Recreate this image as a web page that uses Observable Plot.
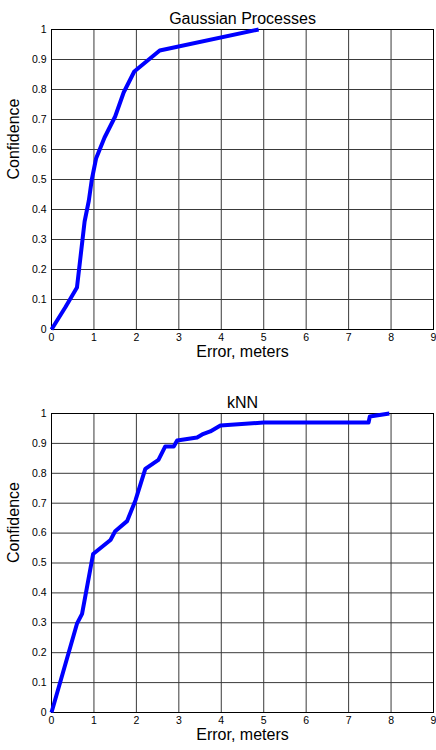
<!DOCTYPE html>
<html>
<head>
<meta charset="utf-8">
<script src="https://cdn.jsdelivr.net/npm/d3@7"></script>
<script src="https://cdn.jsdelivr.net/npm/@observablehq/plot@0.6"></script>
<style>
  body { margin: 0; background: white; }
  #chart { width: 436px; height: 750px; overflow: hidden; }
  #chart svg { display: block; }
</style>
</head>
<body>
<div id="chart"></div>
<script>
// Data
const xTicks = [0, 1, 2, 3, 4, 5, 6, 7, 8, 9];
const yTicks = [0, 0.1, 0.2, 0.3, 0.4, 0.5, 0.6, 0.7, 0.8, 0.9, 1];

const gpError = [0, 0.33, 0.6, 0.78, 0.88, 0.95, 1.05, 1.25, 1.5, 1.7, 1.95, 2.55, 4.88];
const gpConfidence = [0, 0.075, 0.14, 0.36, 0.43, 0.5, 0.57, 0.64, 0.71, 0.79, 0.86, 0.93, 1.0];

const knnError = [0, 0.6, 0.72, 0.98, 1.39, 1.5, 1.78, 1.98, 2.21, 2.52, 2.68, 2.88, 2.96, 3.43, 3.55, 3.74, 3.98, 5.0, 7.47, 7.5, 7.96];
const knnConfidence = [0, 0.297, 0.33, 0.53, 0.577, 0.606, 0.64, 0.71, 0.815, 0.845, 0.89, 0.89, 0.91, 0.92, 0.93, 0.94, 0.96, 0.97, 0.97, 0.99, 1.0];

const titles = ["Gaussian Processes", "kNN"];
const xLabel = "Error, meters";
const yLabel = "Confidence";

function panel(title, xs, ys, marginTop, marginBottom) {
  const data = xs.map((x, i) => ({x, y: ys[i]}));
  return Plot.plot({
    width: 436,
    height: 375,
    marginTop,
    marginBottom,
    marginLeft: 51,
    marginRight: 3,
    style: {fontFamily: "'Liberation Sans', Arial, sans-serif", fontSize: "10.5px", color: "#000", background: "white", overflow: "visible"},
    x: {domain: [0, 9], ticks: xTicks, tickSize: 0, tickPadding: 4, tickFormat: d => String(d), label: null},
    y: {domain: [0, 1], ticks: yTicks, tickSize: 0, tickPadding: 5, tickFormat: d => String(d), label: null},
    marks: [
      Plot.ruleX(xTicks, {stroke: "#3a3a3a", strokeWidth: 1}),
      Plot.ruleY(yTicks, {stroke: "#3a3a3a", strokeWidth: 1}),
      Plot.frame({stroke: "#000", strokeWidth: 1}),
      Plot.line(data, {x: "x", y: "y", stroke: "#0000ff", strokeWidth: 4, strokeLinejoin: "round", strokeLinecap: "butt"}),
      Plot.text([title], {text: d => d, frameAnchor: "top", dy: -16.5, fontSize: 16}),
      Plot.text([xLabel], {text: d => d, frameAnchor: "bottom", dy: 27, fontSize: 16}),
      Plot.text([yLabel], {text: d => d, frameAnchor: "left", dx: -38, rotate: -90, fontSize: 16})
    ]
  });
}

const chart = document.getElementById("chart");
chart.appendChild(panel(titles[0], gpError, gpConfidence, 29, 46));
chart.appendChild(panel(titles[1], knnError, knnConfidence, 38, 38));
</script>
</body>
</html>
